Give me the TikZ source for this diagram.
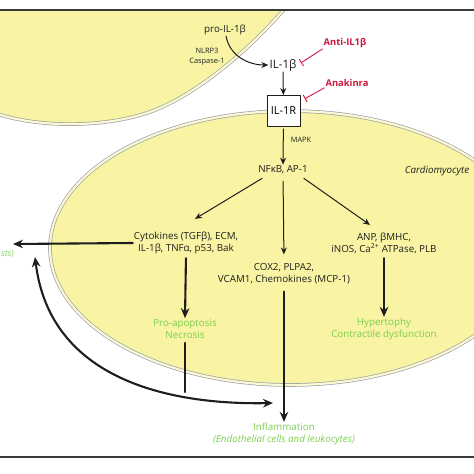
\documentclass[tikz,border=0pt]{standalone}
\usepackage{fontspec}
\setmainfont{Open Sans}
\usepackage{tikz}
\usetikzlibrary{arrows.meta,positioning,calc}
\definecolor{cellfill}{HTML}{F8F4A4}
\definecolor{membrane}{HTML}{9EA0AC}
\definecolor{memgap}{HTML}{FBF9D2}
\definecolor{blocker}{HTML}{D0173F}
\definecolor{effect}{HTML}{7CCF4B}
\definecolor{ink}{HTML}{1E1E1E}
\definecolor{rule}{HTML}{3A3A3A}
\tikzset{
    every picture/.style={line cap=round,line join=round},
    cell/.style={fill=cellfill,draw=membrane,line width=0.7pt,
      double=memgap,double distance=2.2pt},
    frameline/.style={draw=rule,line width=1.2pt},
    txt/.style={text=ink,align=center,inner sep=1pt,
      font=\fontsize{9.8}{12}\selectfont},
    smalltxt/.style={txt,font=\fontsize{7.4}{10}\selectfont},
    bigtxt/.style={txt,font=\fontsize{11.6}{13}\selectfont},
    drug/.style={text=blocker,inner sep=1pt,
      font=\bfseries\fontsize{9.4}{11}\selectfont},
    outcome/.style={txt,text=effect},
    receptor/.style={draw=ink,fill=white,line width=0.9pt,
      minimum width=33pt,minimum height=31pt,inner sep=1pt,
      font=\fontsize{11}{13}\selectfont},
    thinarrow/.style={-{Stealth[length=7pt,width=6pt]},draw=ink,line width=1pt},
    thickarrow/.style={-{Stealth[length=10pt,width=8.5pt]},draw=ink,line width=2.1pt},
    thickline/.style={draw=ink,line width=2.1pt},
    blockline/.style={-{Bar[width=8pt,line width=0.9pt]},draw=blocker,line width=0.9pt}
}
\begin{document}
\begin{tikzpicture}[x=1pt,y=-1pt,font=\fontsize{9.8}{12}\selectfont]
    \useasboundingbox (0,0) rectangle (474,474);
    \begin{scope}
        \clip (0,10) rectangle (474,457);
        \draw[cell] (-10,111) .. controls (30,128) and (110,130) .. (160,108)
            .. controls (205,88) and (255,45) .. (292,0) -- (292,-10) -- (-10,-10) -- cycle;
        \draw[cell] (290,248) ellipse [x radius=240pt,y radius=137pt];
    \end{scope}
    \draw[frameline] (0,10) -- (474,10);
    \draw[frameline] (0,457) -- (474,457);

    \node[txt] (proil) at (225,30) {pro-IL-1β};
    \node[smalltxt] (nlrp) at (207,57) {NLRP3\\Caspase-1};
    \node[bigtxt] (il1b) at (283,65) {IL-1β};
    \node[receptor] (il1r) at (283.5,111) {IL-1R};
    \node[drug] (anti) at (345,43) {Anti-IL1β};
    \node[drug] (anak) at (347,83) {Anakinra};
    \node[smalltxt] (mapk) at (301,140) {MAPK};
    \node[txt] (nfkb) at (283,170) {NFκB, AP-1};
    \node[txt,font=\itshape\fontsize{9.8}{12}\selectfont] (cardio) at (437,171) {Cardiomyocyte};
    \node[txt] (cyto) at (186,243) {Cytokines (TGFβ), ECM,\\IL-1β, TNFα, p53, Bak};
    \node[txt] (cox) at (284,274) {COX2, PLPA2,\\VCAM1, Chemokines (MCP-1)};
    \node[txt] (anp) at (384,243.5) {ANP, βMHC,\\iNOS, Ca\textsuperscript{2+} ATPase, PLB};
    \node[outcome] (apop) at (185,329) {Pro-apoptosis\\Necrosis};
    \node[outcome] (hyper) at (384,329) {Hypertophy\\Contractile dysfunction};
    \node[outcome] (infl) at (284,434) {Inflammation\\\textit{(Endothelial cells and leukocytes)}};
    \node[outcome,font=\itshape\fontsize{8.6}{12}\selectfont,anchor=west,inner sep=0.5pt] (fibtxt) at (0.5,254) {sts)};
    \coordinate (fibro) at (13,244);
    \coordinate (fibtip) at (35,257);
    \coordinate (inftip) at (273,403);
    \coordinate (join) at (185,392);

    \draw[thinarrow] (proil) to[out=-80,in=180] (il1b);
    \draw[thinarrow] (il1b) -- (il1r);
    \draw[blockline,shorten >=4pt] (anti.south west) -- (il1b.east);
    \draw[blockline,shorten >=5pt] (anak.south west) -- (il1r.30);
    \draw[thinarrow,shorten <=2pt] (il1r) -- (nfkb);
    \draw[thinarrow] ($(nfkb.south west)+(5,3)$) -- ($(cyto.north)+(9,-12)$);
    \draw[thinarrow,shorten <=6pt,shorten >=8pt] (nfkb.south) -- (cox.north);
    \draw[thinarrow] ($(nfkb.south east)+(-5,3)$) -- ($(anp.north)+(-14,-7)$);
    \draw[thickarrow,shorten <=3pt] (cyto.south) -- (apop.north);
    \draw[thickarrow,shorten <=3pt] (anp.south) -- (hyper.north);
    \draw[thickarrow,shorten <=6pt] (cox.south) -- (infl.north);
    \draw[thickarrow] (cyto.west) -- (fibro);
    \draw[thickline,shorten <=3pt] (apop.south) -- (join);
    \draw[thickline,{Stealth[length=10pt,width=8.5pt]}-{Stealth[length=10pt,width=8.5pt]}]
        (fibtip) .. controls (50,380) and (170,405) .. (inftip);
\end{tikzpicture}
\end{document}
